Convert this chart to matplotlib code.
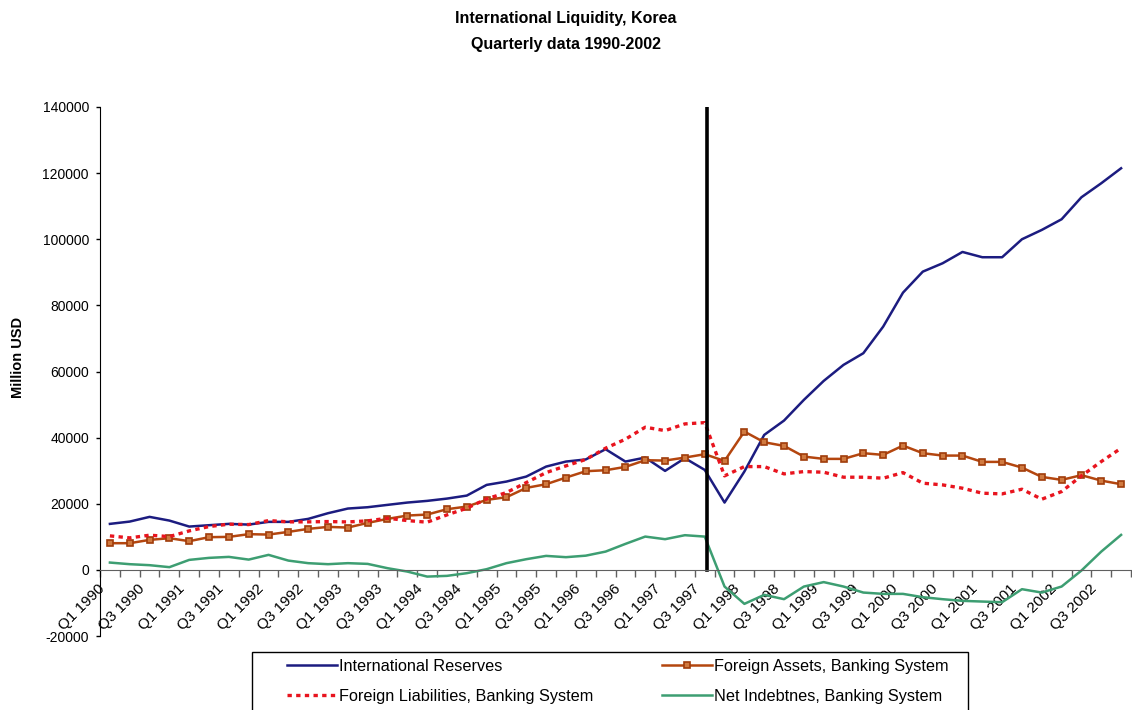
import matplotlib
matplotlib.use('Agg')
import matplotlib.pyplot as plt
from matplotlib.transforms import ScaledTranslation
from matplotlib.patches import Rectangle
import numpy as np

plt.rcParams['font.family'] = ['Liberation Sans', 'DejaVu Sans']

# quarters Q1 1990 .. Q4 2002
quarters = [f'Q{q} {y}' for y in range(1990, 2003) for q in range(1, 5)]

# million USD
intl_reserves = [13910, 14610, 16030, 14910, 13100, 13510, 13910, 13700,
                 14520, 14520, 15420, 17140, 18550, 18950, 19660, 20360,
                 20870, 21560, 22470, 25700, 26710, 28220, 31240, 32760,
                 33400, 36490, 32760, 33970, 29940, 33780, 30240, 20360,
                 29740, 40820, 45160, 51410, 57150, 62000, 65530, 73570,
                 83850, 90210, 92740, 96160, 94560, 94560, 100000, 102820,
                 106050, 112700, 116940, 121470]
foreign_assets = [8070, 8070, 9070, 9580, 8680, 9890, 9980, 10800,
                  10680, 11490, 12400, 13000, 12800, 14210, 15420, 16430,
                  16730, 18350, 19150, 21170, 21980, 24800, 25910, 27920,
                  29840, 30140, 31150, 33170, 33060, 33970, 34980, 32960,
                  41830, 38600, 37500, 34270, 33570, 33570, 35290, 34780,
                  37590, 35290, 34570, 34570, 32660, 32660, 30940, 28120,
                  27220, 28640, 27000, 25910]
foreign_liab = [10280, 9680, 10490, 10070, 11790, 13100, 13820, 13700,
                14910, 14520, 14520, 14610, 14500, 14820, 15630, 14910,
                14420, 16630, 18650, 21470, 23380, 26400, 29420, 31450,
                33400, 36800, 39520, 43150, 42120, 44150, 44540, 28430,
                31240, 31240, 29030, 29730, 29540, 28030, 28030, 27730,
                29420, 26220, 25700, 24700, 23190, 22980, 24400, 21370,
                23690, 28430, 32760, 36800]
net_indebt = [2210, 1720, 1420, 820, 3020, 3630, 3930, 3110,
              4540, 2810, 2030, 1720, 2030, 1810, 510, -510,
              -2030, -1810, -1000, 210, 2030, 3230, 4230, 3840,
              4300, 5530, 7860, 10070, 9280, 10490, 10070, -5050,
              -10280, -7560, -8860, -5050, -3700, -5040, -6860, -7260,
              -7260, -8260, -8870, -9370, -9580, -9780, -5840, -6860,
              -5040, -200, 5530, 10580]

CRISIS = 'Q3 1997'

x = np.arange(len(quarters))

fig = plt.figure(figsize=(11.32, 7.10), dpi=100)
ax = fig.add_axes([100/1132, 74/710, 1031/1132, 529/710])

l1, = ax.plot(x, intl_reserves, color='#1c1c80', lw=1.8, label='International Reserves')
l2, = ax.plot(x, foreign_assets, color='#b4460f', lw=1.8, marker='s', ms=5,
              mfc='#d07a40', mec='#a03c0a', mew=1.2, label='Foreign Assets, Banking System')
l3, = ax.plot(x, foreign_liab, color='#e8141e', lw=2.4, ls=(0, (1.3, 1.3)),
              label='Foreign Liabilities, Banking System')
l4, = ax.plot(x, net_indebt, color='#3d9e72', lw=1.8, label='Net Indebtnes, Banking System')

cx = quarters.index(CRISIS) + 0.1
ax.plot([cx, cx], [0, 140000], color='black', lw=2.6)

ax.set_xlim(-0.5, len(quarters) - 0.5)
ax.set_ylim(-20000, 140000)
ax.set_yticks(np.arange(-20000, 140001, 20000))
ax.set_yticklabels([str(v) for v in range(-20000, 140001, 20000)], fontsize=10)
ax.tick_params(axis='y', direction='out', length=3, width=1, pad=5)

ax.spines['top'].set_visible(False)
ax.spines['right'].set_visible(False)
ax.spines['bottom'].set_position(('data', 0))
ax.spines['bottom'].set_color('#606060')
ax.spines['left'].set_color('black')

ax.set_xticks(x[::2])
ax.set_xticklabels(quarters[::2], rotation=45, ha='right', va='center',
                   rotation_mode='anchor', fontsize=11)
ax.set_xticks(np.arange(-0.5, len(quarters), 1), minor=True)
ax.tick_params(axis='x', which='major', length=0, pad=12)
ax.tick_params(axis='x', which='minor', direction='out', length=5, width=1, color='#606060')
shift = ScaledTranslation(-7/100, 0, fig.dpi_scale_trans)
for lab in ax.get_xticklabels():
    lab.set_transform(lab.get_transform() + shift)

fig.text(566/1132, 1 - 18/710, 'International Liquidity, Korea', ha='center', va='center',
         fontsize=11.5, fontweight='bold')
fig.text(566/1132, 1 - 45/710, 'Quarterly data 1990-2002', ha='center', va='center',
         fontsize=11.5, fontweight='bold')
fig.text(18/1132, 1 - 357/710, 'Million USD', rotation=90, ha='center', va='center',
         fontsize=10.5, fontweight='bold')

# Excel fills the legend row by row
leg = fig.legend(handles=[l1, l3, l2, l4], ncol=2, frameon=False, fontsize=11.7,
                 loc='upper left', bbox_to_anchor=(274/1132, 1 - 646/710),
                 handlelength=3.08, handletextpad=0.12, columnspacing=4.25,
                 labelspacing=0.9, borderpad=0.3)
fig.patches.append(Rectangle((252/1132, -0.05), (968 - 252)/1132, 0.05 + 58/710,
                             transform=fig.transFigure, fill=False,
                             edgecolor='black', lw=1))

fig.savefig('out.png', dpi=100)
